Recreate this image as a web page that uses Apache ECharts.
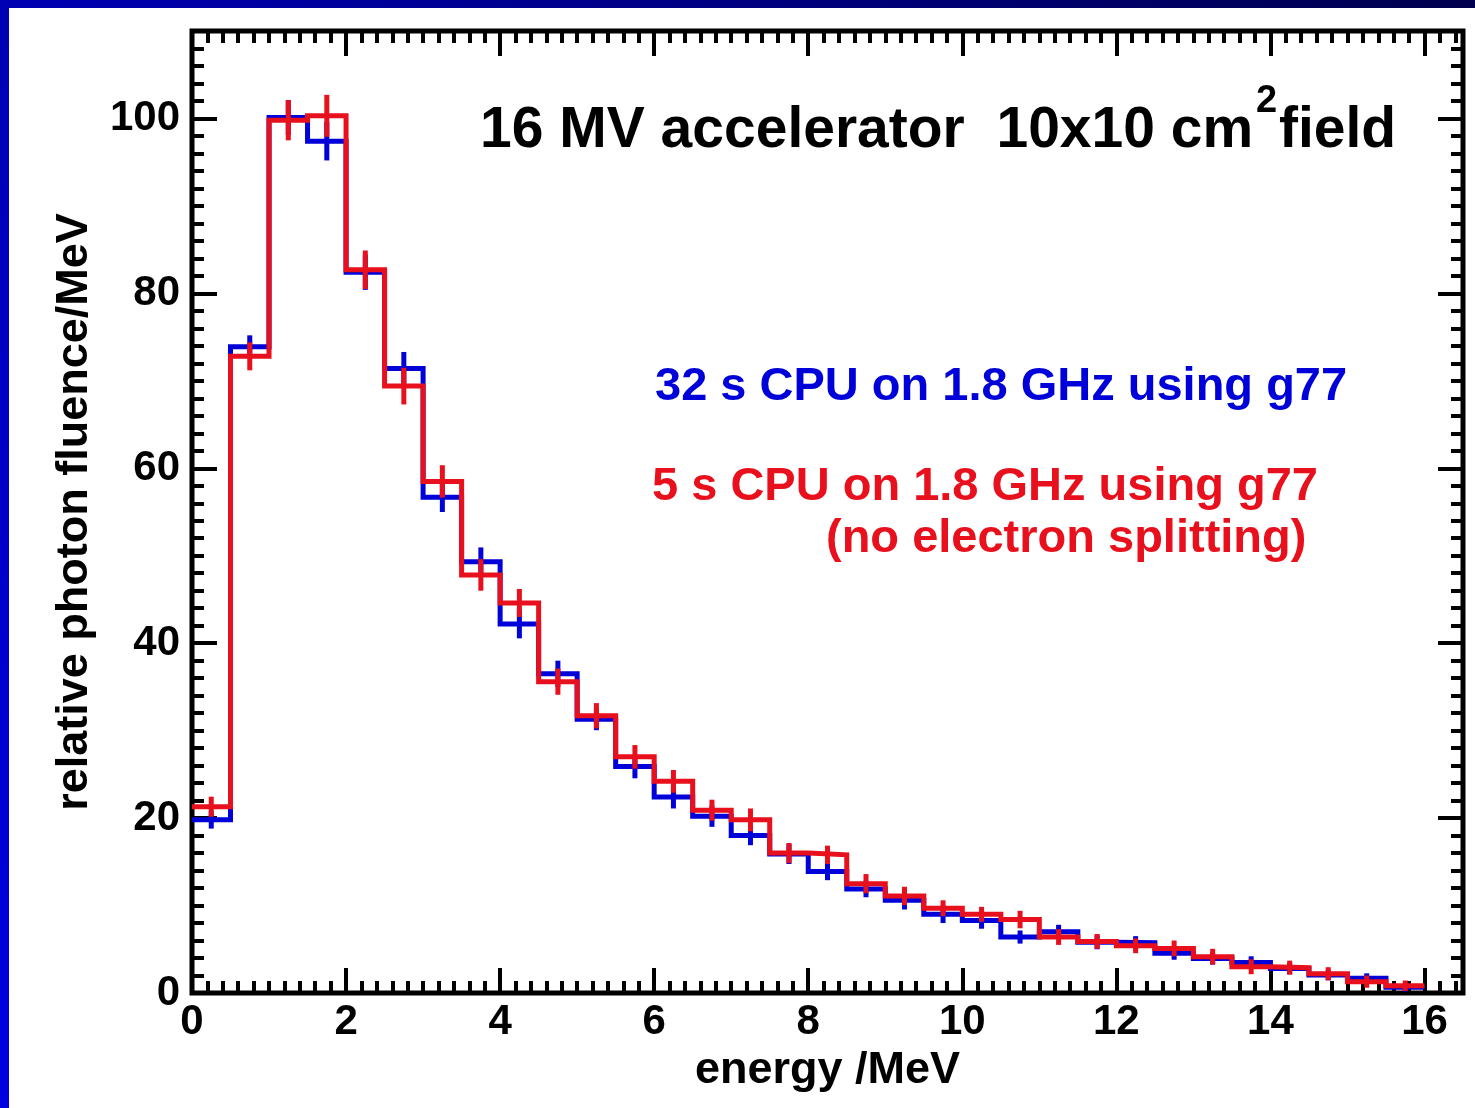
<!DOCTYPE html>
<html>
<head>
<meta charset="utf-8">
<title>16 MV accelerator photon spectrum</title>
<script src="https://cdn.jsdelivr.net/npm/echarts@6/dist/echarts.min.js"></script>
<style>
  html, body { margin: 0; padding: 0; background: #ffffff; }
  #chart { width: 1475px; height: 1108px; }
</style>
</head>
<body>
<div id="chart"></div>
<script>
// Bin edges of the energy histogram (MeV)
const binEdges = [0, 0.5, 1, 1.5, 2, 2.5, 3, 3.5, 4, 4.5, 5, 5.5, 6, 6.5, 7, 7.5, 8,
  8.5, 9, 9.5, 10, 10.5, 11, 11.5, 12, 12.5, 13, 13.5, 14, 14.5, 15, 15.5, 16];

// Relative photon fluence per MeV, one value per bin
const fluenceLong = [19.8, 73.9, 100.1, 97.4, 82.4, 71.4, 56.7, 49.3, 42.2, 36.5, 31.3,
  25.9, 22.4, 20.2, 18.0, 15.9, 13.9, 11.9, 10.6, 9.0, 8.3, 6.4, 7.0, 5.8, 5.75,
  4.55, 3.95, 3.5, 2.8, 2.05, 1.7, 0.65];
const fluenceShort = [21.3, 72.8, 99.8, 100.3, 82.7, 69.4, 58.5, 47.8, 44.6, 35.6, 31.7,
  27.0, 24.2, 20.9, 19.8, 16.0, 15.8, 12.5, 11.1, 9.7, 9.0, 8.4, 6.4, 5.9, 5.4,
  5.1, 4.15, 3.0, 2.9, 2.2, 1.3, 0.83];

// Statistical uncertainties (half-length of the error bars)
const errLong = [1.0, 1.3, 2.0, 2.2, 2.0, 1.9, 1.7, 1.65, 1.65, 1.5, 1.25, 1.35, 1.3,
  1.2, 1.1, 1.15, 1.0, 0.95, 1.05, 1.0, 0.95, 0.75, 0.8, 0.8, 0.75, 0.75, 0.7, 0.7,
  0.65, 0.6, 0.55, 0.5];
const errShort = [1.15, 1.6, 2.3, 2.4, 2.2, 2.1, 1.85, 1.8, 1.6, 1.5, 1.45, 1.35, 1.3,
  1.2, 1.3, 1.15, 1.05, 1.1, 1.05, 0.9, 0.85, 1.0, 0.9, 0.85, 0.85, 0.9, 0.9, 0.85,
  0.8, 0.75, 0.7, 0.6];

// Axis ticks
const xMajorTicks = ['0', '2', '4', '6', '8', '10', '12', '14', '16'];
const yMajorTicks = ['0', '20', '40', '60', '80', '100'];

const BLUE = '#0000d8';
const RED = '#e8101c';
const FONT = '"Liberation Sans", Arial, Helvetica, sans-serif';

// Step outline: each bin's left edge with its value, closed at the last edge
function stepData(values) {
  const pts = values.map((v, i) => [binEdges[i], v]);
  pts.push([binEdges[binEdges.length - 1], values[values.length - 1]]);
  return pts;
}
function errData(values, errs) {
  return values.map((v, i) => [(binEdges[i] + binEdges[i + 1]) / 2, v, errs[i]]);
}
function renderErr(color) {
  return function (params, api) {
    const x = api.value(0), v = api.value(1), e = api.value(2);
    const p1 = api.coord([x, v - e]);
    const p2 = api.coord([x, v + e]);
    return {
      type: 'line',
      shape: { x1: p1[0], y1: p1[1], x2: p2[0], y2: p2[1] },
      style: { stroke: color, lineWidth: 5 }
    };
  };
}

const chart = echarts.init(document.getElementById('chart'), null, { renderer: 'canvas' });

const tickLabel = { color: '#000', fontFamily: FONT, fontWeight: 'bold', fontSize: 42 };

function xAxisDef(pos, interval, tickLen, labels) {
  return {
    type: 'value', position: pos, min: 0, max: 16.5, interval: interval,
    axisLine: { show: false, onZero: false },
    splitLine: { show: false },
    axisTick: { show: true, inside: true, length: tickLen, lineStyle: { color: '#000', width: 4 } },
    axisLabel: labels ? Object.assign({ show: true, margin: 8, showMaxLabel: false,
      formatter: v => (xMajorTicks.indexOf(String(v)) >= 0 ? String(v) : '') }, tickLabel)
      : { show: false },
    name: labels ? 'energy /MeV' : '',
    nameLocation: 'middle',
    nameGap: 52,
    nameTextStyle: { color: '#000', fontFamily: FONT, fontWeight: 'bold', fontSize: 45 }
  };
}
function yAxisDef(pos, interval, tickLen, labels) {
  return {
    type: 'value', position: pos, min: 0, max: 110, interval: interval,
    axisLine: { show: false, onZero: false },
    splitLine: { show: false },
    axisTick: { show: true, inside: true, length: tickLen, lineStyle: { color: '#000', width: 4 } },
    axisLabel: labels ? Object.assign({ show: true, margin: 12, showMaxLabel: false,
      formatter: v => (yMajorTicks.indexOf(String(v)) >= 0 ? String(v) : '') }, tickLabel)
      : { show: false },
    name: labels ? 'relative photon fluence/MeV' : '',
    nameLocation: 'middle',
    nameGap: 95,
    nameTextStyle: { color: '#000', fontFamily: FONT, fontWeight: 'bold', fontSize: 45 }
  };
}

const option = {
  animation: false,
  backgroundColor: '#ffffff',
  grid: {
    left: 192, right: 12, top: 31, bottom: 115,
    show: true, borderColor: '#000', borderWidth: 5, backgroundColor: 'transparent'
  },
  xAxis: [
    xAxisDef('bottom', 2, 25, true),
    xAxisDef('bottom', 0.2, 12, false),
    xAxisDef('top', 2, 25, false),
    xAxisDef('top', 0.2, 12, false)
  ],
  yAxis: [
    yAxisDef('left', 20, 25, true),
    yAxisDef('left', 2, 12, false),
    yAxisDef('right', 20, 25, false),
    yAxisDef('right', 2, 12, false)
  ],
  graphic: [
    // slide frame
    { type: 'rect', left: 0, top: 0, shape: { width: 1475, height: 8 }, z: 100,
      style: { fill: new echarts.graphic.LinearGradient(0, 0, 1, 0, [
        { offset: 0, color: '#0000b4' }, { offset: 1, color: '#00004e' }]) } },
    { type: 'rect', left: 0, top: 0, shape: { width: 9, height: 1108 }, z: 100,
      style: { fill: new echarts.graphic.LinearGradient(0, 0, 0, 1, [
        { offset: 0, color: '#0000b4' }, { offset: 1, color: '#0000e0' }]) } },
    // title
    { type: 'text', x: 480, y: 131, z: 50,
      style: { text: '16 MV accelerator  10x10 cm', fill: '#000', font: 'bold 57px ' + FONT,
        textVerticalAlign: 'middle', verticalAlign: 'middle' } },
    { type: 'text', x: 1256, y: 102, z: 50,
      style: { text: '2', fill: '#000', font: 'bold 38px ' + FONT,
        textVerticalAlign: 'middle', verticalAlign: 'middle' } },
    { type: 'text', x: 1279, y: 131, z: 50,
      style: { text: 'field', fill: '#000', font: 'bold 57px ' + FONT,
        textVerticalAlign: 'middle', verticalAlign: 'middle' } },
    // run descriptions
    { type: 'text', x: 655, y: 387, z: 50,
      style: { text: '32 s CPU on 1.8 GHz using g77', fill: BLUE, font: 'bold 47px ' + FONT,
        textVerticalAlign: 'middle', verticalAlign: 'middle' } },
    { type: 'text', x: 652, y: 487, z: 50,
      style: { text: '5 s CPU on 1.8 GHz using g77', fill: RED, font: 'bold 47px ' + FONT,
        textVerticalAlign: 'middle', verticalAlign: 'middle' } },
    { type: 'text', x: 826, y: 539, z: 50,
      style: { text: '(no electron splitting)', fill: RED, font: 'bold 47px ' + FONT,
        textVerticalAlign: 'middle', verticalAlign: 'middle' } }
  ],
  series: [
    { type: 'line', name: '32 s', xAxisIndex: 0, yAxisIndex: 0, step: 'end',
      data: stepData(fluenceLong), showSymbol: false, symbol: 'none',
      lineStyle: { color: BLUE, width: 5, join: 'miter' }, z: 3 },
    { type: 'custom', name: '32 s err', xAxisIndex: 0, yAxisIndex: 0,
      data: errData(fluenceLong, errLong), renderItem: renderErr(BLUE), z: 3 },
    { type: 'line', name: '5 s', xAxisIndex: 0, yAxisIndex: 0, step: 'end',
      data: stepData(fluenceShort), showSymbol: false, symbol: 'none',
      lineStyle: { color: RED, width: 5, join: 'miter' }, z: 4 },
    { type: 'custom', name: '5 s err', xAxisIndex: 0, yAxisIndex: 0,
      data: errData(fluenceShort, errShort), renderItem: renderErr(RED), z: 4 }
  ]
};

chart.setOption(option);
</script>
</body>
</html>
